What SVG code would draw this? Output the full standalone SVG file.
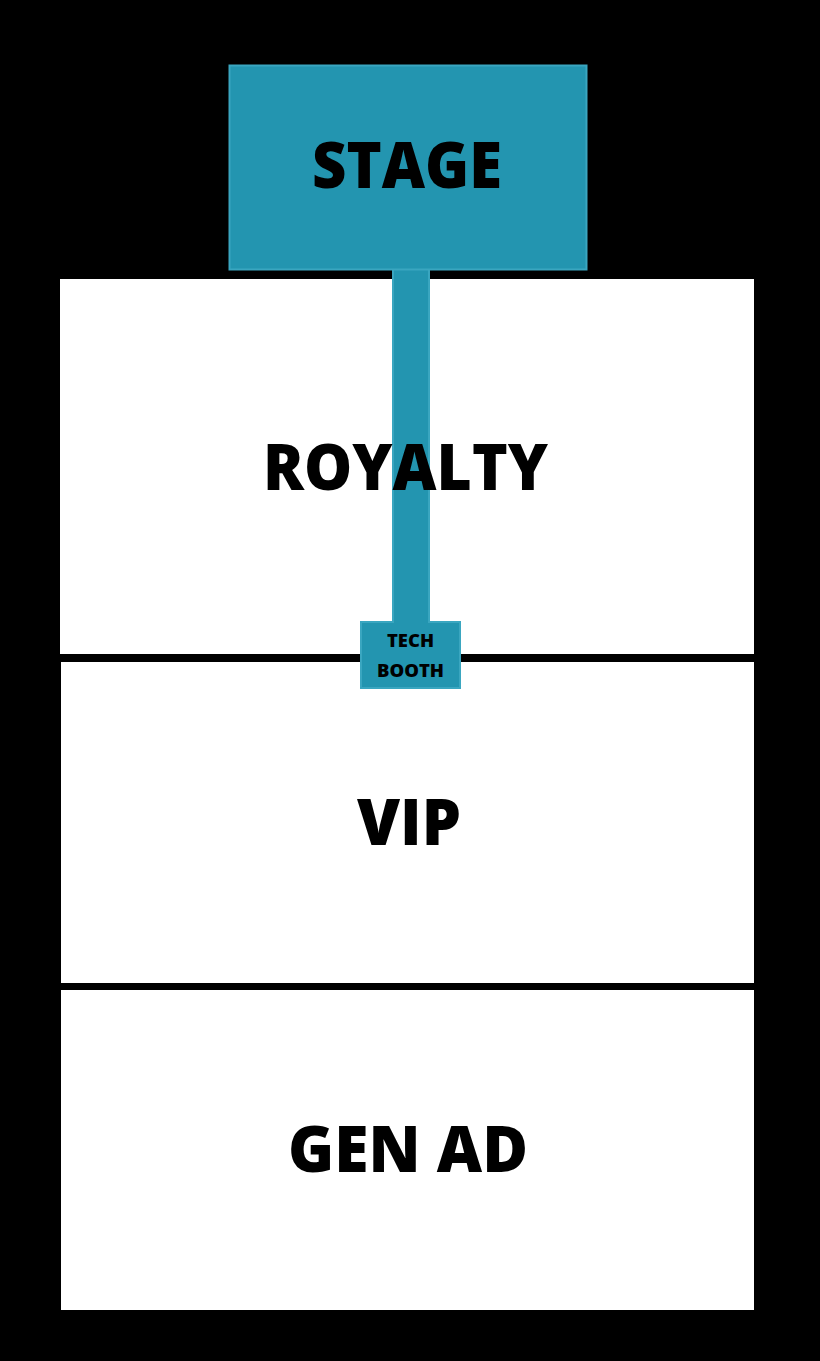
<svg xmlns="http://www.w3.org/2000/svg" width="820" height="1361" viewBox="0 0 820 1361">
<style>
.zone{fill:#ffffff}
.teal{fill:#2395b0;stroke:#3aa6c0;stroke-width:2}
.big{font-family:"Open Sans","Liberation Sans",sans-serif;font-weight:800;font-size:63px;fill:#000;text-anchor:middle}
.small{font-family:"Open Sans","Liberation Sans",sans-serif;font-weight:800;font-size:18px;fill:#000;text-anchor:middle}
</style>
<rect x="0" y="0" width="820" height="1361" fill="#000"/>
<g id="royalty">
<rect class="zone" x="60" y="279" width="694" height="375"/>
</g>
<g id="vip">
<rect class="zone" x="61" y="662" width="693" height="321"/>
<text class="big" x="409" y="845" textLength="104" lengthAdjust="spacingAndGlyphs">VIP</text>
</g>
<g id="genad">
<rect class="zone" x="61" y="990" width="693" height="320"/>
<text class="big" x="408" y="1172" textLength="240" lengthAdjust="spacingAndGlyphs">GEN AD</text>
</g>
<g id="connectors">
<rect class="teal" x="393" y="262" width="36" height="370"/>
</g>
<g id="royalty-label">
<text class="big" x="405.5" y="490" textLength="285" lengthAdjust="spacingAndGlyphs">ROYALTY</text>
</g>
<g id="stage">
<rect class="teal" x="229.5" y="65.5" width="357" height="204"/>
<text class="big" x="407" y="188" textLength="190" lengthAdjust="spacingAndGlyphs">STAGE</text>
</g>
<g id="tech-booth">
<rect class="teal" x="361" y="622" width="99" height="66"/>
<rect x="394" y="615" width="34" height="9" fill="#2395b0"/>
<text class="small" x="410.5" y="647" textLength="47" lengthAdjust="spacingAndGlyphs">TECH</text>
<text class="small" x="410.5" y="677" textLength="67" lengthAdjust="spacingAndGlyphs">BOOTH</text>
</g>
</svg>
